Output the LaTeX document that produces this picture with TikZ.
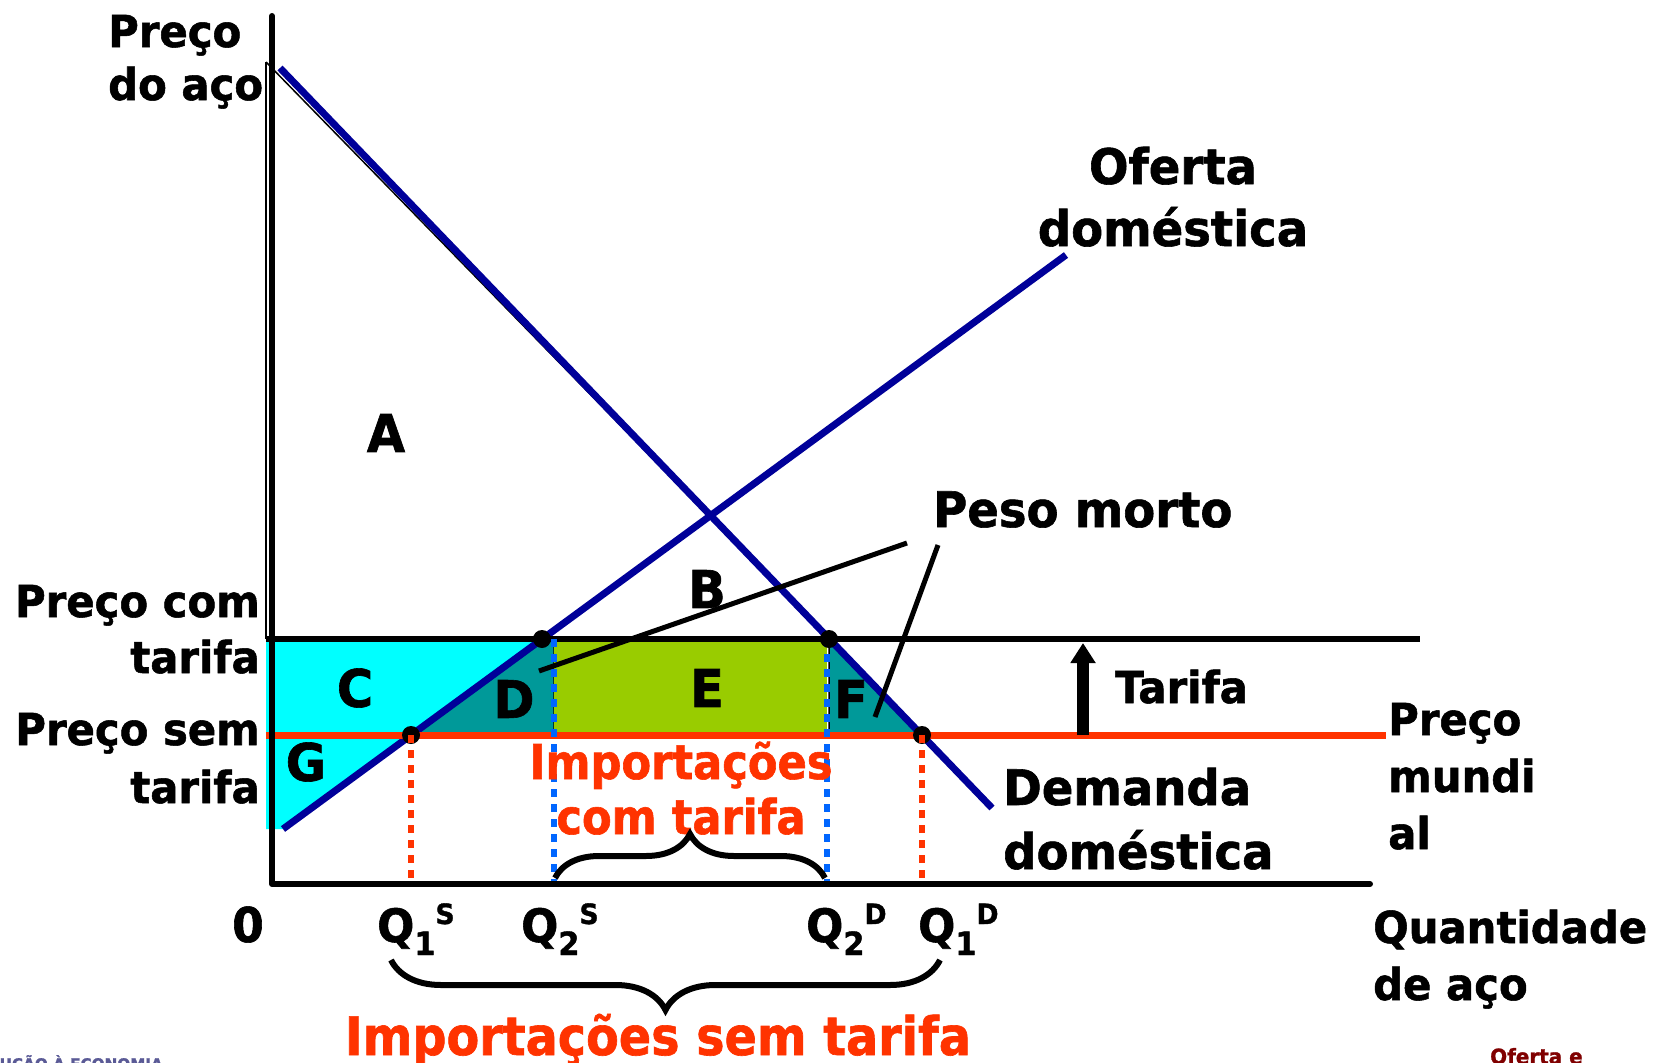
\documentclass[tikz,border=0pt]{standalone}
\usepackage{fontspec}
\usetikzlibrary{arrows.meta,decorations.pathreplacing}
\newfontfamily\vf[FakeStretch=0.95, BoldFeatures={FakeBold=1.2}]{DejaVu Sans}
\newfontfamily\rf[FakeStretch=0.9, BoldFeatures={FakeBold=1.2}]{DejaVu Sans}
\definecolor{cyanfill}{HTML}{00FFFF}
\definecolor{tealfill}{HTML}{009999}
\definecolor{greenfill}{HTML}{99CC00}
\definecolor{worldred}{HTML}{FF3300}
\definecolor{curveblue}{HTML}{000099}
\definecolor{dotblue}{HTML}{0066FF}
\definecolor{footblue}{HTML}{5A5A96}
\definecolor{footred}{HTML}{800000}
\newcommand\Ltab[1]{\begin{tabular}[t]{@{}l@{}}#1\end{tabular}}
\newcommand\Rtab[1]{\begin{tabular}[t]{@{}r@{}}#1\end{tabular}}
\newcommand\Ctab[1]{\begin{tabular}[t]{@{}c@{}}#1\end{tabular}}
\newcommand\Fs[2]{\vf\bfseries\fontsize{#1}{#2}\selectfont}
\newcommand\Rs[2]{\rf\bfseries\fontsize{#1}{#2}\selectfont}
\newcommand\SubQ[1]{\raisebox{-13pt}{\fontsize{32}{32}\selectfont #1}}
\newcommand\SupQ[1]{\raisebox{18pt}{\fontsize{28}{28}\selectfont #1}}
\begin{document}
\begin{tikzpicture}[x=1pt,y=-1pt,
  txt/.style={inner sep=0pt, text=black},
  arealbl/.style={inner sep=0pt, anchor=center, font=\Fs{52}{60}},
  qlbl/.style={inner sep=0pt, anchor=base west, font=\Fs{46}{56}},
  curve/.style={line width=7pt, draw=curveblue},
  thinline/.style={line width=1.5pt, draw=black},
  dotline/.style={line width=6pt, dash pattern=on 8pt off 7pt},
  bracestyle/.style={line width=6pt, decorate},
  leader/.style={line width=5pt, draw=black},
  ptdot/.style={fill=black}]
\useasboundingbox (0,0) rectangle (1655,1063);
\clip (0,0) rectangle (1655,1063);
\fill[white] (0,0) rectangle (1655,1063);
% key points
\coordinate (O) at (272,884);
\coordinate (Ytop) at (272,16);
\coordinate (Xend) at (1370,884);
\coordinate (PT0) at (266,639);
\coordinate (PT1) at (1420,639);
\coordinate (PW0) at (266,735);
\coordinate (PW1) at (1386,735);
\coordinate (S0) at (283,829);
\coordinate (S1) at (1066,255);
\coordinate (D0) at (280,68);
\coordinate (D1) at (992,808);
\coordinate (q1s) at (411,735);
\coordinate (q2s) at (542,639);
\coordinate (q2d) at (829,639);
\coordinate (q1d) at (922,735);
\coordinate (bl) at (554,639);
\coordinate (br) at (827,639);
\coordinate (Atop) at (266,62);
% areas
\fill[cyanfill] (PT0) -- (q2s) -- (S0) -- (266,829) -- cycle;
\filldraw[fill=tealfill, thinline] (q1s) -- (q2s) -- (bl) -- (bl |- q1s) -- cycle;
\fill[greenfill] (bl) rectangle (br |- q1s);
\filldraw[fill=tealfill, thinline] (q2d) -- (q1d) -- (q2d |- q1d) -- cycle;
% outline of A
\draw[thinline] (Atop) -- (266,639);
\draw[thinline] (Atop) -- (q2d);
% supply and demand
\draw[curve] (S0) -- (S1);
\draw[curve] (D0) -- (D1);
% price lines
\draw[line width=6pt] (PT0) -- (PT1);
\draw[line width=7pt, worldred] (PW0) -- (PW1);
% dotted guides
\draw[dotline, dotblue] (bl) -- (bl |- O);
\draw[dotline, dotblue] (br) -- (br |- O);
% points
\fill[ptdot] (q1s) circle (9pt);
\fill[ptdot] (q2s) circle (9pt);
\fill[ptdot] (q2d) circle (9pt);
\fill[ptdot] (q1d) circle (9pt);
\draw[dotline, worldred] (q1s) -- (q1s |- O);
\draw[dotline, worldred] (q1d) -- (q1d |- O);
% axes
\draw[line width=6pt, line cap=round, line join=round] (Ytop) -- (O) -- (Xend);
% tariff arrow
\coordinate (ta0) at (1083,735);
\coordinate (ta1) at (1083,643);
\draw[line width=12pt, -{Triangle[width=24pt,length=20pt]}] (ta0) -- (ta1);
% area letters
\node[arealbl] (lA) at (386,433) {A};
\node[arealbl] (lB) at (707,589) {B};
\node[arealbl] (lC) at (355,688) {C};
\node[arealbl] (lD) at (514,699) {D};
\node[arealbl] (lE) at (707,688) {E};
\node[arealbl] (lF) at (851,699) {F};
\node[arealbl] (lG) at (306,762) {G};
% dead-weight leaders
\coordinate (pm1) at (907,543);
\coordinate (pm2) at (938,545);
\coordinate (pmD) at (539,671);
\coordinate (pmF) at (875,717);
\draw[leader] (pm1) -- (pmD);
\draw[leader] (pm2) -- (pmF);
% labels
\node[txt, anchor=base west, font=\Fs{44}{53}] (ylab) at (108,47) {\Ltab{Preço\\do aço}};
\node[txt, anchor=base east, font=\Fs{44}{56}] (pct) at (260,617) {\Rtab{Preço com\\tarifa}};
\node[txt, anchor=base east, font=\Fs{44}{58}] (pst) at (260,745) {\Rtab{Preço sem\\tarifa}};
\node[txt, anchor=base west, font=\Fs{44}{57}] (pmun) at (1388,735) {\Ltab{Preço\\mundi\\al}};
\node[txt, anchor=base west, font=\Fs{44}{57}] (xlab) at (1373,943) {\Ltab{Quantidade\\de aço}};
\node[txt, anchor=base, font=\Fs{49}{62}] (oferta) at (1173,184) {\Ctab{Oferta\\doméstica}};
\node[txt, anchor=base west, font=\Fs{49}{64}] (demanda) at (1003,805) {\Ltab{Demanda\\doméstica}};
\node[txt, anchor=base west, font=\Fs{49}{60}] (peso) at (933,527) {Peso morto};
\node[txt, anchor=base west, font=\Fs{44}{56}] (tarifa) at (1115,703) {Tarifa};
\node[txt, anchor=base, font=\Fs{48}{56}] (zero) at (248,942) {0};
\node[qlbl] (Q1S) at (377,942) {Q\SubQ{1}\SupQ{S}};
\node[qlbl] (Q2S) at (521,942) {Q\SubQ{2}\SupQ{S}};
\node[qlbl] (Q2D) at (806,942) {Q\SubQ{2}\SupQ{D}};
\node[qlbl] (Q1D) at (918,942) {Q\SubQ{1}\SupQ{D}};
\node[inner sep=0pt, anchor=base, text=worldred, font=\Rs{48}{55}] (impc) at (681,779) {\Ctab{Importações\\com tarifa}};
\node[inner sep=0pt, anchor=base, text=worldred, font=\Rs{53}{60}] (imps) at (658,1055) {Importações sem tarifa};
% braces
\coordinate (bt0) at (555,878);
\coordinate (bt1) at (825,878);
\coordinate (bb0) at (391,960);
\coordinate (bb1) at (940,960);
\draw[bracestyle, decoration={brace, amplitude=44pt}] (bt0) -- (bt1);
\draw[bracestyle, decoration={brace, amplitude=50pt}] (bb1) -- (bb0);
% footers
\node[inner sep=0pt, anchor=base east, text=footblue, font=\Fs{16}{18}] (footl) at (163,1070) {INTRODUÇÃO À ECONOMIA};
\node[inner sep=0pt, anchor=base west, text=footred, font=\Fs{21}{24}] (footr) at (1490,1064) {Oferta e};
\end{tikzpicture}
\end{document}
